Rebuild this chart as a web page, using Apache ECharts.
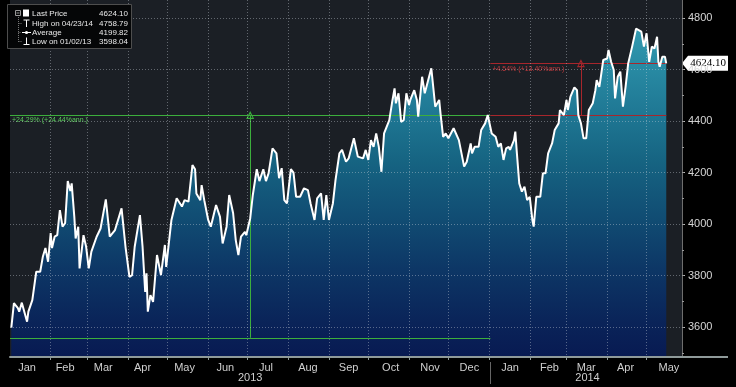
<!DOCTYPE html>
<html><head><meta charset="utf-8">
<script src="https://cdn.jsdelivr.net/npm/echarts@6/dist/echarts.min.js"></script>
<style>html,body{margin:0;padding:0;background:#000;}#c{width:736px;height:387px;}</style>
</head><body><div id="c"></div>
<script>
// ---------- data ----------
const dates = [
'2013-01-02','2013-01-04','2013-01-07','2013-01-08','2013-01-10','2013-01-14','2013-01-15','2013-01-18','2013-01-21','2013-01-24',
'2013-01-26','2013-01-28','2013-01-30','2013-02-01','2013-02-02','2013-02-04','2013-02-06','2013-02-08','2013-02-10','2013-02-12',
'2013-02-14','2013-02-16','2013-02-17','2013-02-19','2013-02-20','2013-02-22','2013-02-23','2013-02-26','2013-02-28','2013-03-02',
'2013-03-04','2013-03-08','2013-03-11','2013-03-15','2013-03-18','2013-03-22','2013-03-27','2013-03-30','2013-04-02','2013-04-04',
'2013-04-06','2013-04-10','2013-04-12','2013-04-14','2013-04-15','2013-04-16','2013-04-18','2013-04-20','2013-04-23','2013-04-26',
'2013-04-29','2013-04-30','2013-05-04','2013-05-08','2013-05-12','2013-05-14','2013-05-17','2013-05-20','2013-05-22','2013-05-23',
'2013-05-26','2013-05-27','2013-05-29','2013-06-01','2013-06-03','2013-06-07','2013-06-10','2013-06-12','2013-06-15','2013-06-17',
'2013-06-20','2013-06-22','2013-06-24','2013-06-26','2013-06-29','2013-06-30','2013-07-03','2013-07-05','2013-07-08','2013-07-10',
'2013-07-13','2013-07-15','2013-07-17','2013-07-20','2013-07-23','2013-07-25','2013-07-27','2013-07-29','2013-07-31','2013-08-03',
'2013-08-05','2013-08-07','2013-08-10','2013-08-13','2013-08-16','2013-08-18','2013-08-21','2013-08-23','2013-08-26','2013-08-28',
'2013-08-30','2013-09-01','2013-09-04','2013-09-06','2013-09-09','2013-09-11','2013-09-14','2013-09-16','2013-09-20','2013-09-23',
'2013-09-27','2013-09-29','2013-10-01','2013-10-03','2013-10-05','2013-10-07','2013-10-09','2013-10-11','2013-10-13','2013-10-17',
'2013-10-19','2013-10-21','2013-10-22','2013-10-24','2013-10-26','2013-10-28','2013-10-30','2013-11-01','2013-11-02','2013-11-05',
'2013-11-07','2013-11-08','2013-11-11','2013-11-13','2013-11-18','2013-11-21','2013-11-24','2013-11-25','2013-11-27','2013-11-29',
'2013-12-01','2013-12-05','2013-12-09','2013-12-13','2013-12-15','2013-12-18','2013-12-19','2013-12-21','2013-12-24','2013-12-26',
'2013-12-29','2013-12-31',
'2014-01-03','2014-01-06','2014-01-08','2014-01-10','2014-01-12','2014-01-14','2014-01-16','2014-01-17','2014-01-20','2014-01-21',
'2014-01-22','2014-01-24','2014-01-26','2014-01-28','2014-01-30','2014-02-01','2014-02-03','2014-02-04','2014-02-06','2014-02-09',
'2014-02-11','2014-02-13','2014-02-15','2014-02-18','2014-02-20','2014-02-23','2014-02-24','2014-02-27','2014-03-01','2014-03-02',
'2014-03-04','2014-03-07','2014-03-09','2014-03-10','2014-03-12','2014-03-14','2014-03-16','2014-03-18','2014-03-21','2014-03-23',
'2014-03-24','2014-03-26','2014-03-27','2014-03-29','2014-04-01','2014-04-02','2014-04-04','2014-04-06','2014-04-07','2014-04-09',
'2014-04-11','2014-04-13','2014-04-15','2014-04-17','2014-04-20','2014-04-23','2014-04-27','2014-04-29','2014-05-01','2014-05-03',
'2014-05-05','2014-05-07','2014-05-09','2014-05-10','2014-05-11','2014-05-13','2014-05-15','2014-05-16'
];
const prices = [
3598.04,3693,3674,3660,3695,3621,3660,3705,3815,3815,
3873,3907,3854,3965,3907,3951,3957,4054,3990,4004,
4167,4128,4158,4028,3944,3990,3828,3957,3912,3828,
3893,3951,3983,4096,3951,3977,4061,3912,3795,3802,
3912,4035,3912,3737,3809,3660,3724,3698,3880,3802,
3919,3834,4016,4100,4068,4093,4087,4229,4213,4119,
4093,4151,4093,4016,3990,4074,4028,3925,3990,4113,
4042,3938,3880,3951,3970,3957,4022,4113,4213,4167,
4213,4167,4197,4294,4275,4178,4217,4093,4080,4213,
4200,4106,4106,4139,4132,4080,4016,4100,4119,4016,
4113,4016,4080,4171,4275,4288,4242,4255,4333,4262,
4255,4288,4249,4326,4300,4352,4300,4203,4352,4404,
4469,4527,4469,4508,4397,4404,4508,4462,4482,4520,
4482,4417,4572,4508,4605,4456,4482,4430,4339,4352,
4333,4372,4326,4223,4242,4313,4275,4300,4300,4365,
4391,4423.4,
4352,4339,4300,4313,4249,4294,4300,4288,4326,4359,
4288,4158,4126,4145,4093,4106,4016,3990,4106,4106,
4197,4197,4275,4313,4365,4391,4443,4423,4482,4443,
4495,4531,4520,4423,4391,4333,4333,4443,4469,4520,
4559,4533,4566,4637,4643,4676,4630,4598,4488,4572,
4592,4456,4533,4624,4689,4758.79,4747,4689,4741,4630,
4689,4682,4727,4630,4611,4650,4650,4624.10
];
const monthNames = ['Jan','Feb','Mar','Apr','May','Jun','Jul','Aug','Sep','Oct','Nov','Dec'];
const monthLabelDates = ['2013-01-14','2013-02-12','2013-03-13','2013-04-12','2013-05-14','2013-06-14','2013-07-15','2013-08-16','2013-09-16','2013-10-18','2013-11-17','2013-12-17','2014-01-17','2014-02-16','2014-03-16','2014-04-15','2014-05-18'];
const monthStartDates = ['2013-02-01','2013-03-01','2013-04-01','2013-05-01','2013-06-01','2013-07-01','2013-08-01','2013-09-01','2013-10-01','2013-11-01','2013-12-01','2014-01-01','2014-02-01','2014-03-01','2014-04-01','2014-05-01'];
const yearLabels = ['2013','2014'];
const yearLabelDates = ['2013-07-03','2014-03-17'];
const yearDividerDates = ['2014-01-02'];
const yTickLabels = [3600,3800,4000,4200,4400,4600,4800];
const yMinorTicks = [3500,3600,3700,3800,3900,4000,4100,4200,4300,4400,4500,4600,4700,4800];
const legendNames = ['Last Price','High on 04/23/14','Average','Low on 01/02/13'];
const legendValues = ['4624.10','4758.79','4199.82','3598.04'];
const periodStarts = ['2013-01-01','2014-01-02'];
const periodEnds = ['2014-01-02','2014-05-16'];
const periodMids = ['2013-07-03','2014-03-12'];
const periodFrom = [3558.7, 4423.4];
const periodTo = [4423.4, 4624.10];
const periodLabels = ['+24.29% (+24.44%ann.)','+4.54% (+13.40%ann.)'];
const periodColors = ['#3cae3c','#a8262c'];
const periodTextColors = ['#5cc85c','#c23a3e'];
const lastPrice = 4624.10;
const xMinDate = '2013-01-01', xMaxDate = '2014-05-28';
const yMin = 3484, yMax = 4870;

// ---------- build ----------
const ts = s => Date.parse(s + 'T00:00:00Z');
const seriesData = dates.map((d, i) => [ts(d), prices[i]]);
const FONT = 'Liberation Sans';
const gridDot = {color: 'rgba(205,212,220,0.40)', type: [1, 2], width: 1};

const markLines = [];
periodStarts.forEach((s, i) => {
  const c = periodColors[i];
  markLines.push([
    {coord: [ts(s), periodTo[i]], lineStyle: {color: c, width: 1, type: 'solid'},
     label: {show: true, position: 'insideStartBottom', formatter: periodLabels[i], color: periodTextColors[i], fontSize: 7, fontFamily: FONT, distance: 2}},
    {coord: [ts(periodEnds[i]), periodTo[i]]}
  ]);
  markLines.push([
    {coord: [ts(s), periodFrom[i]], lineStyle: {color: c, width: 1, type: 'solid'}},
    {coord: [ts(periodEnds[i]), periodFrom[i]]}
  ]);
  markLines.push([
    {coord: [ts(periodMids[i]), periodFrom[i]], lineStyle: {color: c, width: 1, type: 'solid'}},
    {coord: [ts(periodMids[i]), periodTo[i]], symbol: 'path://M5,0 L10,9 L0,9 Z M5,3 L2,7.6 L8,7.6 Z', symbolSize: [8, 8]}
  ]);
});

const chart = echarts.init(document.getElementById('c'), null, {renderer: 'canvas'});
const ZL = 2;
const legendGraphic = [
  {type: 'rect', zlevel: ZL, z: 100, shape: {x: 7.5, y: 4.5, width: 124, height: 44}, style: {fill: '#050607', stroke: '#4e4e4e', lineWidth: 1}},
  {type: 'line', zlevel: ZL, z: 101, shape: {x1: 18.5, y1: 17, x2: 18.5, y2: 42}, style: {stroke: '#777', lineDash: [1, 1]}},
  {type: 'line', zlevel: ZL, z: 101, shape: {x1: 18.5, y1: 23.5, x2: 22, y2: 23.5}, style: {stroke: '#777', lineDash: [1, 1]}},
  {type: 'line', zlevel: ZL, z: 101, shape: {x1: 18.5, y1: 32.5, x2: 21, y2: 32.5}, style: {stroke: '#777', lineDash: [1, 1]}},
  {type: 'line', zlevel: ZL, z: 101, shape: {x1: 18.5, y1: 41.5, x2: 22, y2: 41.5}, style: {stroke: '#777', lineDash: [1, 1]}},
  {type: 'rect', zlevel: ZL, z: 101, shape: {x: 15.5, y: 10.5, width: 5, height: 5}, style: {fill: 'none', stroke: '#999'}},
  {type: 'line', zlevel: ZL, z: 101, shape: {x1: 16.5, y1: 13, x2: 19.5, y2: 13}, style: {stroke: '#999'}},
  {type: 'rect', zlevel: ZL, z: 101, shape: {x: 23, y: 9.5, width: 6, height: 7}, style: {fill: '#fff'}},
  {type: 'line', zlevel: ZL, z: 101, shape: {x1: 23.5, y1: 20, x2: 29.5, y2: 20}, style: {stroke: '#fff'}},
  {type: 'line', zlevel: ZL, z: 101, shape: {x1: 26.5, y1: 20, x2: 26.5, y2: 27}, style: {stroke: '#fff'}},
  {type: 'line', zlevel: ZL, z: 101, shape: {x1: 22, y1: 32.5, x2: 31, y2: 32.5}, style: {stroke: '#fff'}},
  {type: 'circle', zlevel: ZL, z: 101, shape: {cx: 26.5, cy: 32.5, r: 1.6}, style: {fill: '#fff'}},
  {type: 'line', zlevel: ZL, z: 101, shape: {x1: 26.5, y1: 37.5, x2: 26.5, y2: 44.5}, style: {stroke: '#fff'}},
  {type: 'line', zlevel: ZL, z: 101, shape: {x1: 23.5, y1: 44.5, x2: 29.5, y2: 44.5}, style: {stroke: '#fff'}}
];
const rowY = [13.3, 23.3, 32.3, 41.5];
legendNames.forEach((n, i) => {
  legendGraphic.push({type: 'text', zlevel: ZL, z: 102, x: 32, y: rowY[i], style: {text: n, fill: '#e8e8e8', font: '8px ' + FONT, textVerticalAlign: 'middle', verticalAlign: 'middle'}});
  legendGraphic.push({type: 'text', zlevel: ZL, z: 102, x: 128, y: rowY[i], style: {text: legendValues[i], fill: '#e8e8e8', font: '8px ' + FONT, textAlign: 'right', align: 'right', textVerticalAlign: 'middle', verticalAlign: 'middle'}});
});
legendGraphic.push({type: 'rect', zlevel: 1, z: 5, shape: {x: 682, y: 356, width: 46, height: 2}, style: {fill: '#8f9a9a'}});

chart.setOption({
  backgroundColor: '#000',
  animation: false,
  grid: {left: 10, right: 54, top: 0, bottom: 30, show: true, backgroundColor: '#1b1f25', borderWidth: 0, containLabel: false, zlevel: 0, z: 0},
  xAxis: [{
    type: 'value', min: ts(xMinDate), max: ts(xMaxDate), position: 'bottom', zlevel: 1, z: 3,
    axisLine: {show: true, lineStyle: {color: '#8f9a9a', width: 2}},
    axisTick: {show: true, customValues: monthStartDates.map(ts), length: 3, lineStyle: {color: '#8f9a9a'}},
    axisLabel: {customValues: monthLabelDates.map(ts), formatter: v => monthNames[new Date(v).getUTCMonth()], color: '#cfcfcf', fontSize: 11, fontFamily: FONT, margin: 5},
    splitLine: {show: true, lineStyle: gridDot}
  }, {
    type: 'value', min: ts(xMinDate), max: ts(xMaxDate), position: 'bottom', offset: 5, zlevel: 1, z: 3,
    axisLine: {show: false},
    axisTick: {show: true, customValues: yearDividerDates.map(ts), length: 22, lineStyle: {color: '#666'}},
    axisLabel: {customValues: yearLabelDates.map(ts), formatter: v => yearLabels[yearLabelDates.map(ts).indexOf(v)] || '', color: '#cfcfcf', fontSize: 11, fontFamily: FONT, margin: 10},
    splitLine: {show: false}
  }],
  yAxis: [{
    type: 'value', position: 'right', min: yMin, max: yMax, zlevel: 1, z: 3,
    axisLine: {show: true, lineStyle: {color: '#6e6e6e'}},
    axisTick: {show: true, customValues: yTickLabels, length: 3, lineStyle: {color: '#bbb'}},
    axisLabel: {customValues: yTickLabels, formatter: v => String(v), color: '#d6d6d6', fontSize: 11, fontFamily: FONT, margin: 6},
    splitLine: {show: true, lineStyle: gridDot}
  }, {
    type: 'value', position: 'right', min: yMin, max: yMax, zlevel: 1, z: 3,
    axisLine: {show: false},
    axisTick: {show: true, customValues: yMinorTicks, length: 2, lineStyle: {color: '#999'}},
    axisLabel: {show: false},
    splitLine: {show: false}
  }],
  series: [{
    type: 'line', data: seriesData, xAxisIndex: 0, yAxisIndex: 0, zlevel: 0, z: 1, silent: true,
    showSymbol: false, symbol: 'none', lineStyle: {width: 0},
    areaStyle: {origin: 'start', opacity: 1, color: {type: 'linear', x: 0, y: 0, x2: 0, y2: 357, global: true, colorStops: [
      {offset: 0, color: '#3aa6bb'}, {offset: 0.15, color: '#2b90a8'}, {offset: 0.3, color: '#207a96'},
      {offset: 0.45, color: '#166482'}, {offset: 0.6, color: '#114e74'}, {offset: 0.75, color: '#0d3766'},
      {offset: 0.9, color: '#0a2459'}, {offset: 1, color: '#081a52'}]}}
  }, {
    type: 'line', data: seriesData, xAxisIndex: 0, yAxisIndex: 0, zlevel: ZL, z: 5, silent: true,
    showSymbol: false, symbol: 'none', lineStyle: {color: '#ffffff', width: 2},
    markLine: {silent: true, animation: false, symbol: 'none', label: {show: false}, data: markLines},
    markPoint: {silent: true, animation: false, data: [{
      coord: [ts(xMaxDate), lastPrice],
      symbol: 'path://M0,7 L6,0 L46,0 L46,14 L6,14 Z', symbolSize: [46, 15], symbolOffset: [23, 0], symbolKeepAspect: false,
      itemStyle: {color: '#ffffff'},
      label: {show: true, position: 'inside', formatter: lastPrice.toFixed(2), color: '#000', fontFamily: 'Liberation Serif', fontSize: 11, offset: [3, 0]}
    }]}
  }],
  graphic: legendGraphic
});
</script></body></html>
